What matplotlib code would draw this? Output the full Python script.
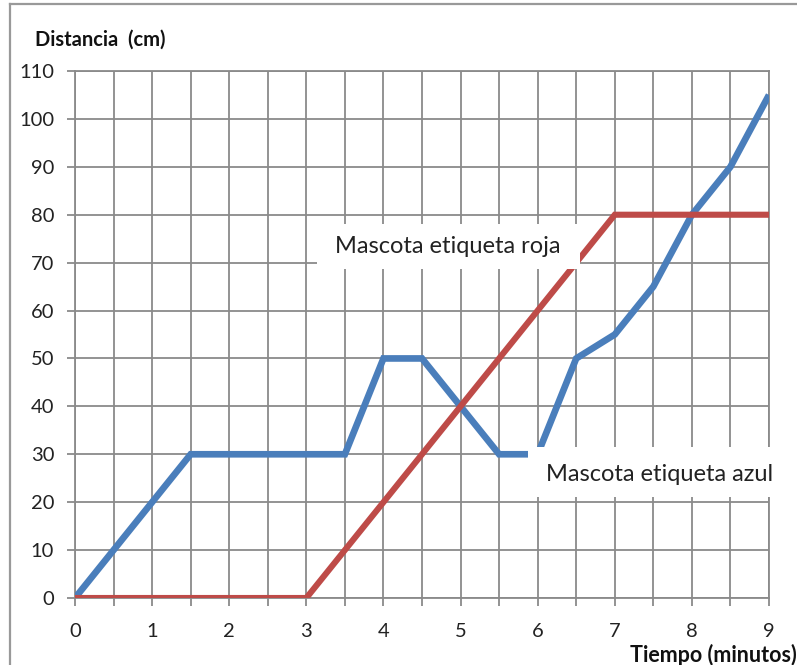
import matplotlib
matplotlib.use("Agg")
import matplotlib.pyplot as plt
from matplotlib.patches import Rectangle
from matplotlib.lines import Line2D
from matplotlib.ticker import MultipleLocator

# Data
t_azul = [0, 0.5, 1, 1.5, 2, 2.5, 3, 3.5, 4, 4.5, 5, 5.5, 6, 6.5, 7, 7.5, 8, 8.5, 9]
d_azul = [0, 10, 20, 30, 30, 30, 30, 30, 50, 50, 40, 30, 30, 50, 55, 65, 80, 90, 105]
t_roja = [0, 3, 7, 9]
d_roja = [0, 0, 80, 80]
x_ticks = [0, 1, 2, 3, 4, 5, 6, 7, 8, 9]
y_ticks = [0, 10, 20, 30, 40, 50, 60, 70, 80, 90, 100, 110]
label_roja = "Mascota etiqueta roja"
label_azul = "Mascota etiqueta azul"
xlabel = "Tiempo (minutos)"
ylabel = "Distancia  (cm)"

plt.rcParams['font.family'] = ['Lato', 'DejaVu Sans']

W, H = 797, 665
fig = plt.figure(figsize=(W / 100, H / 100), dpi=100)
ax = fig.add_axes([75 / W, 1 - 598 / H, (769 - 75) / W, (598 - 71) / H])

grid_col = '#8a8a8a'
blue = '#4A7EBB'
red = '#BE4B48'

ax.plot(t_azul, d_azul, color=blue, lw=4.8, solid_joinstyle='miter', solid_capstyle='butt', zorder=3)
ax.plot(t_roja, d_roja, color=red, lw=4.4, solid_joinstyle='miter', solid_capstyle='butt', zorder=3)

ax.set_xlim(0, 9)
ax.set_ylim(0, 110)
ax.set_xticks(x_ticks)
ax.set_yticks(y_ticks)
ax.xaxis.set_minor_locator(MultipleLocator(0.5))
ax.grid(True, which='both', axis='x', color=grid_col, lw=1.3, zorder=1)
ax.grid(True, which='major', axis='y', color=grid_col, lw=1.3, zorder=1)
ax.set_axisbelow(True)
for s in ax.spines.values():
    s.set_color(grid_col)
    s.set_linewidth(1.3)
ax.tick_params(axis='both', which='both', length=6, width=1.3, color=grid_col,
               labelsize=14.5, labelcolor='#222222')
ax.tick_params(axis='x', which='major', pad=12)
ax.tick_params(axis='y', which='major', pad=9)

# label boxes (white background covering grid/lines)
ax.add_patch(Rectangle((3.14, 68.6), 6.55 - 3.14, 78 - 68.6, facecolor='white',
                       edgecolor='none', zorder=4))
ax.text(4.84, 73.4, label_roja, ha='center', va='center', fontsize=17,
        color='#222222', zorder=5)
ax.add_patch(Rectangle((5.87, 21.1), 9.12 - 5.87, 31.6 - 21.1, facecolor='white',
                       edgecolor='none', zorder=4, clip_on=False))
ax.text(7.58, 25.8, label_azul, ha='center', va='center', fontsize=17,
        color='#222222', zorder=5)

fig.text(35 / W, 1 - 40 / H, ylabel, ha='left', va='center', fontsize=14.5,
         fontweight='bold', color='#111111')
fig.text(797 / W, 1 - 655 / H, xlabel, ha='right', va='center', fontsize=15.5,
         fontweight='bold', color='#111111')

# outer frame
fig.add_artist(Line2D([10 / W, 10 / W], [0, 1 - 4 / H], transform=fig.transFigure,
                      color='#999999', lw=1.6))
fig.add_artist(Line2D([10 / W, 1], [1 - 4 / H, 1 - 4 / H], transform=fig.transFigure,
                      color='#999999', lw=1.6))

fig.savefig('out.png', dpi=100)
